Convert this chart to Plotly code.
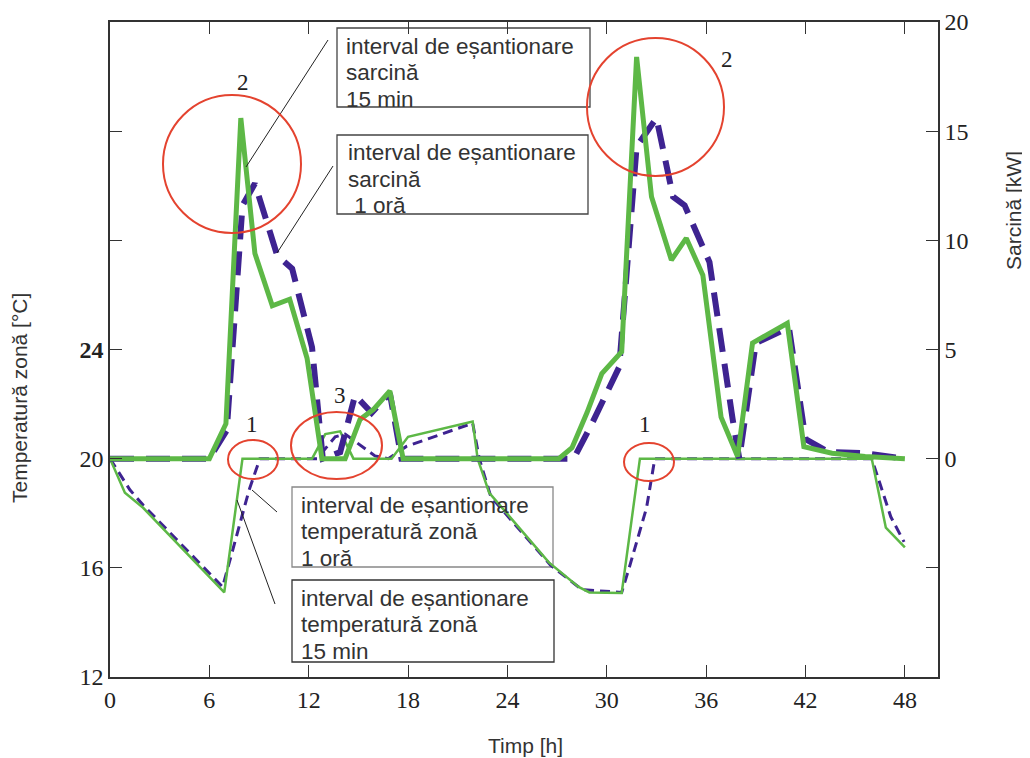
import plotly.graph_objects as go

# ---------------- data ----------------
# Load, 15 min sampling interval (right axis, kW)
hours_load_15 = [0, 6.0, 7.0, 7.9, 8.75, 9.8, 10.85, 11.9, 12.8, 14.2, 15.1, 15.9, 16.9, 17.7,
                 27.1, 27.9, 28.8, 29.7, 30.9, 31.8, 32.7, 33.9, 34.8, 35.8, 36.9, 37.9,
                 38.8, 40.9, 41.9, 43.6, 45.6, 48.0]
load_15 = [0, 0, 1.6, 15.6, 9.4, 7.0, 7.3, 4.6, 0, 0, 1.8, 2.25, 3.1, 0,
           0, 0.5, 2.1, 3.9, 4.9, 18.4, 12.0, 9.1, 10.1, 8.4, 1.9, 0.1,
           5.3, 6.2, 0.55, 0.25, 0.1, 0]

# Load, 1 hour sampling interval (right axis, kW)
hours_load_60 = [0, 6.0, 7.05, 8.0, 8.75, 10.1, 11.0, 12.2, 12.85, 13.9, 14.8, 15.8, 16.9, 17.6,
                 28.0, 29.1, 30.75, 31.8, 33.0, 34.0, 34.7, 36.2, 37.6, 38.0, 39.0, 41.0,
                 42.0, 43.4, 45.6, 48.0]
load_60 = [0, 0, 1.3, 11.6, 12.6, 9.3, 8.7, 5.1, 0, 0.3, 2.9, 2.1, 3.0, 0,
           0, 1.6, 4.2, 14.3, 15.6, 12.0, 11.6, 9.0, 1.8, 0, 5.3, 6.0,
           0.9, 0.3, 0.25, 0]

# Zone temperature, 15 min sampling interval (left axis, degC)
hours_temp_15 = [0, 0.9, 2.0, 6.0, 6.9, 8.0, 12.2, 13.0, 13.9, 14.7, 17.0, 18.0, 21.9, 22.2,
                 22.9, 26.5, 28.3, 28.95, 30.9, 32.0, 46.0, 46.85, 48.0]
temp_15 = [20, 18.75, 18.2, 15.7, 15.1, 20, 20, 20.9, 21.0, 20.0, 20.0, 20.8, 21.36, 20.0,
           18.75, 16.2, 15.3, 15.1, 15.08, 20.0, 20.0, 17.47, 16.75]

# Zone temperature, 1 hour sampling interval (left axis, degC)
hours_temp_60 = [0, 1.2, 2.0, 6.8, 8.4, 9.05, 12.5, 13.6, 14.2, 16.0, 16.8, 17.9, 21.9, 22.3,
                 23.0, 26.6, 28.5, 30.9, 31.4, 32.4, 32.9, 46.0, 47.15, 47.95]
temp_60 = [20, 18.86, 18.3, 15.3, 18.85, 20, 20, 20.8, 20.9, 20.1, 20.0, 20.45, 21.3, 20.0,
           18.6, 16.1, 15.2, 15.1, 16.1, 18.2, 20.0, 20.0, 17.87, 16.95]

x_ticks = [0, 6, 12, 18, 24, 30, 36, 42, 48]
temp_ticks = [12, 16, 20, 24, 28, 32]
temp_ticktext = ["12", "16", "20", "<b>24</b>", "", ""]
load_ticks = [-10, -5, 0, 5, 10, 15, 20]
load_ticktext = ["", "", "0", "5", "10", "15", "20"]

# ---------------- style ----------------
GREEN = "#5DB846"
PURPLE = "#3E2391"
RED = "#E4432F"
AXC = "#333333"
SERIF = "Liberation Serif"
SANS = "Liberation Sans"

OFF = 8  # the page body margin in the browser
W, H = 1030 - OFF, 758 - OFF
L, R, T, B = 110 - OFF, 92, 22 - OFF, 81
PW, PH = W - L - R, H - T - B


def PX(px):
    return (px - OFF - L) / PW


def PY(py):
    return (H - B - (py - OFF)) / PH


fig = go.Figure()
fig.add_trace(go.Scatter(x=hours_load_60, y=load_60, yaxis="y2", mode="lines",
                         line=dict(color=PURPLE, width=6, dash="24px,12px"),
                         name="sarcină 1 oră"))
fig.add_trace(go.Scatter(x=hours_temp_60, y=temp_60, mode="lines",
                         line=dict(color=PURPLE, width=3, dash="10px,6px"),
                         name="temperatură 1 oră"))
fig.add_trace(go.Scatter(x=hours_load_15, y=load_15, yaxis="y2", mode="lines",
                         line=dict(color=GREEN, width=5),
                         name="sarcină 15 min"))
fig.add_trace(go.Scatter(x=hours_temp_15, y=temp_15, mode="lines",
                         line=dict(color=GREEN, width=2.5),
                         name="temperatură 15 min"))

shapes = []
# text boxes (below the curves)
boxes = [(337, 28, 590, 107, "#444444"), (337, 135, 588, 214, "#444444"),
         (292, 487, 553, 567, "#888888"), (292, 580, 554, 662, "#333333")]
for x0, y0, x1, y1, c in boxes:
    shapes.append(dict(type="rect", xref="paper", yref="paper", layer="below",
                       x0=PX(x0), x1=PX(x1), y0=PY(y1), y1=PY(y0),
                       fillcolor="white", line=dict(color=c, width=1.3)))
# leader lines
leaders = [(328, 40, 246, 167), (333, 166, 277, 253), (277, 512, 252, 490), (275, 604, 237, 500)]
for x0, y0, x1, y1 in leaders:
    shapes.append(dict(type="line", xref="paper", yref="paper",
                       x0=PX(x0), y0=PY(y0), x1=PX(x1), y1=PY(y1),
                       line=dict(color="#222222", width=1)))
# red circles
circles = [(163, 95, 301, 233), (587, 38, 724, 176), (228, 440, 278, 479),
           (624, 443, 674, 481), (291, 412, 382, 479)]
for x0, y0, x1, y1 in circles:
    shapes.append(dict(type="circle", xref="paper", yref="paper",
                       x0=PX(x0), x1=PX(x1), y0=PY(y1), y1=PY(y0),
                       line=dict(color=RED, width=2)))

annotations = []
box_texts = [(344, 46, ["interval de eșantionare", "sarcină", "15 min"]),
             (346, 153, ["interval de eșantionare", "sarcină", " 1 oră"]),
             (299, 505, ["interval de eșantionare", "temperatură zonă", "1 oră"]),
             (299, 598, ["interval de eșantionare", "temperatură zonă", "15 min"])]
for x, y, lines in box_texts:
    for i, t in enumerate(lines):
        annotations.append(dict(xref="paper", yref="paper", x=PX(x), y=PY(y + 26.5 * i), text=t,
                                xanchor="left", yanchor="middle", align="left", showarrow=False,
                                font=dict(family=SANS, size=22.5, color="#333333")))
labels = [(243, 82, "2"), (727, 60, "2"), (252, 424, "1"), (645, 424, "1"), (340, 395, "3")]
for x, y, t in labels:
    annotations.append(dict(xref="paper", yref="paper", x=PX(x), y=PY(y), text=t,
                            showarrow=False, xanchor="center", yanchor="middle",
                            font=dict(family=SERIF, size=23, color="#222222")))
annotations.append(dict(xref="paper", yref="paper", x=PX(19), y=PY(398), textangle=-90,
                        text="Temperatură zonă [°C]", showarrow=False,
                        xanchor="center", yanchor="middle",
                        font=dict(family=SANS, size=21, color="#333333")))
annotations.append(dict(xref="paper", yref="paper", x=PX(1014), y=PY(211), textangle=-90,
                        text="Sarcină [kW]", showarrow=False,
                        xanchor="center", yanchor="middle",
                        font=dict(family=SANS, size=21, color="#333333")))
annotations.append(dict(xref="paper", yref="paper", x=PX(525), y=PY(745),
                        text="Timp [h]", showarrow=False,
                        xanchor="center", yanchor="middle",
                        font=dict(family=SANS, size=21, color="#333333")))

axis_common = dict(showgrid=False, zeroline=False, showline=True, linecolor=AXC,
                   linewidth=1.5, ticks="inside", ticklen=12, tickwidth=1.3,
                   tickcolor=AXC, tickfont=dict(family=SERIF, size=24, color="#222222"))

fig.update_layout(
    width=W, height=H,
    margin=dict(l=L, r=R, t=T, b=B, autoexpand=False),
    paper_bgcolor="white", plot_bgcolor="white",
    showlegend=False,
    xaxis=dict(range=[0, 50], tickmode="array", tickvals=x_ticks, mirror="ticks",
               **axis_common),
    yaxis=dict(range=[12, 36], tickmode="array", tickvals=temp_ticks,
               ticktext=temp_ticktext, mirror=True, **axis_common),
    yaxis2=dict(range=[-10, 20], tickmode="array", tickvals=load_ticks,
                ticktext=load_ticktext, overlaying="y", side="right", **axis_common),
    shapes=shapes,
    annotations=annotations,
)

fig.write_html("out.html")
